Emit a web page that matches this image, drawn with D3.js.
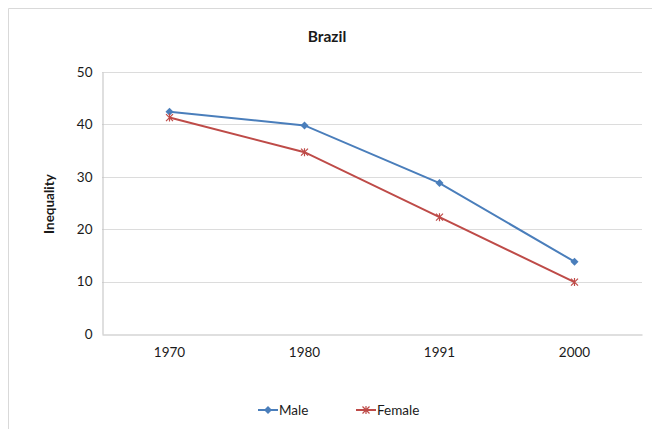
<!DOCTYPE html>
<html>
<head>
<meta charset="utf-8">
<script src="https://cdn.jsdelivr.net/npm/d3@7"></script>
<style>
  body { margin: 0; background: #fff; }
  text { font-family: Lato, "Open Sans", "Liberation Sans", sans-serif; fill: #1a1a1a; }
</style>
</head>
<body>
<svg id="chart" width="652" height="429"></svg>
<script>
const years = ["1970", "1980", "1991", "2000"];
const maleValues = [42.4, 39.8, 28.8, 13.8];
const femaleValues = [41.3, 34.7, 22.3, 9.9];
const yTicks = [0, 10, 20, 30, 40, 50];
const seriesNames = ["Male", "Female"];
const seriesColors = ["#4a7ebb", "#be4b48"];

const svg = d3.select("#chart");
const W = 652, H = 429;
const plot = { left: 102, right: 642, top: 72, bottom: 334 };

// outer chart frame
svg.append("path")
  .attr("d", `M8.5,${H} L8.5,8.5 L${W},8.5`)
  .attr("fill", "none").attr("stroke", "#d9d9d9").attr("stroke-width", 1);

const x = d3.scaleBand().domain(years).range([plot.left, plot.right]);
const y = d3.scaleLinear().domain([0, 50]).range([plot.bottom, plot.top]);

// gridlines
svg.append("g").selectAll("line").data(yTicks.filter(d => d > 0)).join("line")
  .attr("x1", plot.left).attr("x2", plot.right)
  .attr("y1", d => Math.round(y(d)) + 0.5).attr("y2", d => Math.round(y(d)) + 0.5)
  .attr("stroke", "#dcdcdc").attr("stroke-width", 1);

// y axis
const yAxis = svg.append("g").attr("transform", `translate(${plot.left + 0.5},0)`)
  .call(d3.axisLeft(y).tickValues(yTicks).tickSize(0).tickPadding(10));
yAxis.select(".domain").attr("stroke", "#bfbfbf");
yAxis.selectAll("text").attr("font-size", 13.5).attr("fill", "#1a1a1a")
  .style("font-family", "Lato, 'Open Sans', sans-serif");

// x axis
const xAxis = svg.append("g").attr("transform", `translate(0,${plot.bottom + 0.5})`)
  .call(d3.axisBottom(x).tickSize(0).tickPadding(13));
xAxis.select(".domain").attr("stroke", "#bfbfbf");
xAxis.selectAll("text").attr("font-size", 13.5).attr("fill", "#1a1a1a")
  .style("font-family", "Lato, 'Open Sans', sans-serif");

// title
svg.append("text").attr("x", 327).attr("y", 42).attr("text-anchor", "middle")
  .attr("font-size", 15.5).attr("font-weight", "bold").text("Brazil");

// y axis title
svg.append("text").attr("transform", "translate(54,204) rotate(-90)")
  .attr("text-anchor", "middle").attr("font-size", 13.5).attr("font-weight", "bold")
  .text("Inequality");

const cx = d => x(d) + x.bandwidth() / 2;
const line = d3.line().x(d => cx(d.year)).y(d => y(d.v));

const series = [maleValues, femaleValues].map((vals, i) => ({
  name: seriesNames[i], color: seriesColors[i],
  points: years.map((yr, j) => ({ year: yr, v: vals[j] }))
}));

function diamond(g, px, py, color) {
  g.append("path").attr("d", `M${px},${py - 4} L${px + 4},${py} L${px},${py + 4} L${px - 4},${py} Z`)
    .attr("fill", color);
}
function star(g, px, py, color) {
  const s = 3.5;
  g.append("path")
    .attr("d", `M${px - s},${py - s} L${px + s},${py + s} M${px - s},${py + s} L${px + s},${py - s} M${px},${py - s - 0.5} L${px},${py + s + 0.5}`)
    .attr("stroke", color).attr("stroke-width", 1.2).attr("fill", "none");
}

series.forEach((s, i) => {
  svg.append("path").datum(s.points).attr("d", line)
    .attr("fill", "none").attr("stroke", s.color).attr("stroke-width", 2);
  const g = svg.append("g");
  s.points.forEach(p => {
    if (i === 0) diamond(g, cx(p.year), y(p.v), s.color);
    else star(g, cx(p.year), y(p.v), s.color);
  });
});

// legend
const legendItems = [
  { x: 258, name: "Male" },
  { x: 356, name: "Female" }
];
legendItems.forEach((it, i) => {
  const g = svg.append("g");
  const ly = 410;
  g.append("line").attr("x1", it.x).attr("x2", it.x + 20).attr("y1", ly).attr("y2", ly)
    .attr("stroke", seriesColors[i]).attr("stroke-width", 2);
  if (i === 0) diamond(g, it.x + 10, ly, seriesColors[i]);
  else star(g, it.x + 10, ly, seriesColors[i]);
  g.append("text").attr("x", it.x + 21).attr("y", ly + 5).attr("font-size", 13.5)
    .text(it.name);
});
</script>
</body>
</html>
